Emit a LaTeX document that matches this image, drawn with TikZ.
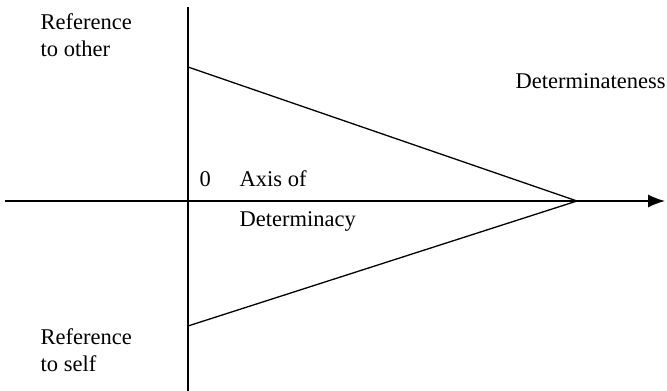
\documentclass[tikz,border=0pt]{standalone}
\usepackage{fontspec}
\setmainfont{Liberation Serif}
\usepackage{tikz}
\usetikzlibrary{arrows.meta, positioning}

\begin{document}
\begin{tikzpicture}[x=1pt, y=1pt, line width=1.3pt,
    lbl/.style={inner sep=0pt, anchor=base west, align=left,
        font=\fontsize{22.5}{27}\selectfont}]
    \useasboundingbox (0,0) rectangle (667,391);
    % 1. Trục
    \coordinate (vtop) at (188,384);
    \coordinate (vbot) at (188,0);
    \coordinate (hleft) at (5,190);
    \coordinate (hright) at (665,190);
    \draw (vtop) -- (vbot);
    \draw[-{Latex[length=17pt, width=13pt]}] (hleft) -- (hright);

    % 2. Tam giác
    \coordinate (other) at (188,324);
    \coordinate (apex) at (577,190);
    \coordinate (self) at (188,65);
    \draw (other) -- (apex) -- (self);

    % 3. Nhãn
    \node[lbl] (refother) at (40,334) {Reference\\to other};
    \node[lbl] (determ) at (515,302) {Determinateness};
    \node[lbl] (zero) at (199,204) {0};
    \node[lbl] (axisof) at (239,204) {Axis of};
    \node[lbl] (determinacy) at (239,164) {Determinacy};
    \node[lbl] (refself) at (40,19) {Reference\\to self};
\end{tikzpicture}
\end{document}
